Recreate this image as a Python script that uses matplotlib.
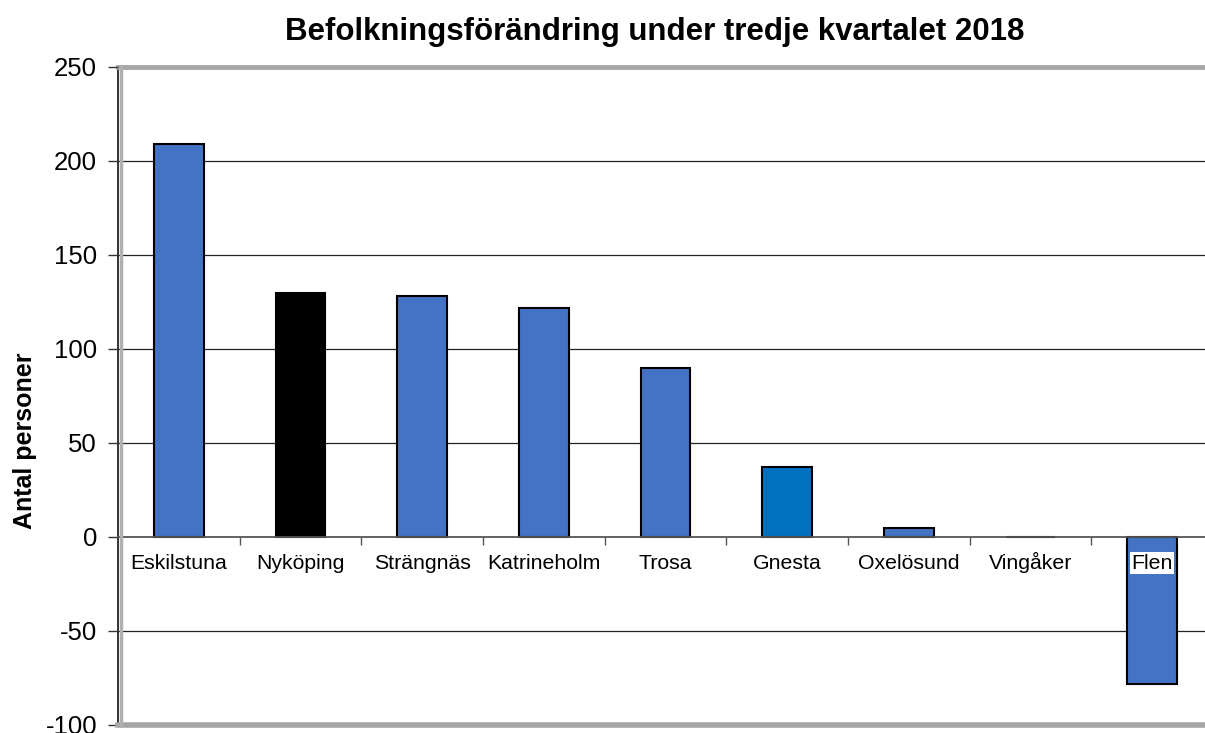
import numpy as np
import matplotlib
matplotlib.use("Agg")
import matplotlib.pyplot as plt
from matplotlib.lines import Line2D
import matplotlib.transforms as mtransforms

plt.rcParams['font.family'] = ['Liberation Sans', 'DejaVu Sans']
plt.rcParams['axes.unicode_minus'] = False

kommuner = ['Eskilstuna', 'Nyköping', 'Strängnäs', 'Katrineholm', 'Trosa',
            'Gnesta', 'Oxelösund', 'Vingåker', 'Flen']
forandring = [209, 130, 128, 122, 90, 37, 5, 0, -78]
farger = ['#4472C4', '#000000', '#4472C4', '#4472C4', '#4472C4',
          '#0070C0', '#4472C4', '#4472C4', '#4472C4']
yticks = [-100, -50, 0, 50, 100, 150, 200, 250]

W, H = 1205, 733
fig = plt.figure(figsize=(W / 100, H / 100), dpi=100)
left, right, top, bottom = 118, 1213, 67, 725
ax = fig.add_axes([left / W, 1 - bottom / H, (right - left) / W, (bottom - top) / H])
ax.set_axisbelow(False)  # category labels must sit on top of the Flen bar

x = np.arange(len(kommuner))
ax.bar(x, forandring, width=0.41, color=farger, edgecolor='black', linewidth=1.5, zorder=2)

ax.set_xlim(-0.5, len(kommuner) - 0.5)
ax.set_ylim(-100, 250)
ax.set_yticks(yticks)
ax.tick_params(axis='y', labelsize=18.5, length=7, width=1, color='#333333', pad=8)

# horizontal gridlines
for v in yticks:
    if v not in (0, -100, 250):
        ax.axhline(v, color='#222222', linewidth=0.9, zorder=1)

# spines
ax.spines['right'].set_visible(False)
ax.spines['top'].set_color('#a6a6a6')
ax.spines['top'].set_linewidth(3.5)
ax.spines['left'].set_color('#222222')
ax.spines['left'].set_linewidth(1.3)
ax.spines['bottom'].set_position(('data', 0))
ax.spines['bottom'].set_color('#555555')
ax.spines['bottom'].set_linewidth(1.3)
ax.spines['bottom'].set_zorder(2.6)

# grey frame at the bottom and shadow next to the left axis
ax.add_line(Line2D([0, 1], [0, 0], transform=ax.transAxes, color='#a6a6a6',
                   linewidth=4, clip_on=False, zorder=5))
shadow = mtransforms.offset_copy(ax.transAxes, fig=fig, x=2.5, y=0, units='dots')
ax.add_line(Line2D([0, 0], [0, 1], transform=shadow, color='#b0b0b0',
                   linewidth=2.5, clip_on=False, zorder=5))

# category labels below the zero line, ticks at category boundaries
ax.set_xticks(x)
ax.set_xticklabels(kommuner, fontsize=15.3)
ax.tick_params(axis='x', which='major', length=0, pad=23)
for lab in ax.get_xticklabels():
    lab.set_verticalalignment('baseline')
ax.set_xticks(x[:-1] + 0.5, minor=True)
ax.tick_params(axis='x', which='minor', length=6, width=1, color='#555555', direction='out')
flen = ax.get_xticklabels()[-1]
flen.set_bbox(dict(facecolor='white', edgecolor='none', pad=1))

ax.set_ylabel('Antal personer', fontsize=18, fontweight='bold')
ax.yaxis.set_label_coords(-0.074, 0.432)

fig.text(0.543, 1 - 32 / H, 'Befolkningsförändring under tredje kvartalet 2018',
         ha='center', va='center', fontsize=22.5, fontweight='bold')

fig.savefig('out.png', dpi=100)
